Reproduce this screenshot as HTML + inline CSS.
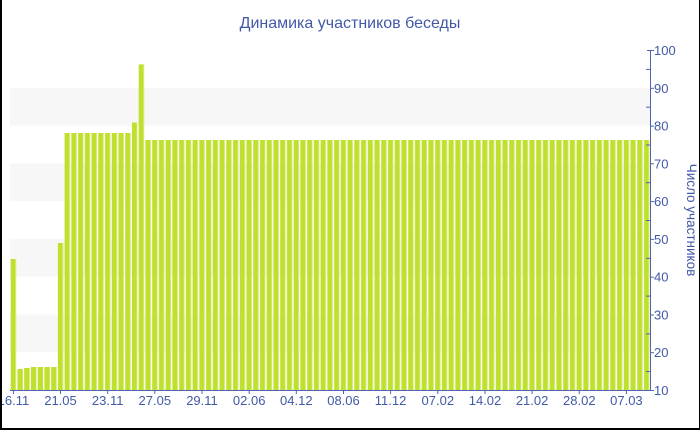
<!DOCTYPE html>
<html><head><meta charset="utf-8"><style>
html,body{margin:0;padding:0;background:#fff;}
svg{display:block;}
text{font-family:"Liberation Sans","DejaVu Sans",sans-serif;fill:#4159a7;}
</style></head><body>
<svg width="700" height="430" viewBox="0 0 700 430" xmlns="http://www.w3.org/2000/svg">
<defs>
<pattern id="bars" x="10" y="0" width="6.73684" height="430" patternUnits="userSpaceOnUse">
<rect x="0.7" y="0" width="5.4" height="430" fill="#bfe02f"/>
<rect x="5.3" y="0" width="0.9" height="430" fill="#d9ee86"/>
</pattern>
</defs>
<rect x="0" y="0" width="700" height="430" fill="#fff"/>
<g fill="#f7f7f7">
<rect x="10" y="87.8" width="640" height="37.8"/>
<rect x="10" y="163.3" width="640" height="37.8"/>
<rect x="10" y="238.9" width="640" height="37.8"/>
<rect x="10" y="314.4" width="640" height="37.8"/>
</g>
<g fill="#bfe02f">
<rect x="10.70" y="259" width="5.4" height="131"/>
<rect x="17.44" y="369" width="5.4" height="21"/>
<rect x="24.17" y="368" width="5.4" height="22"/>
<rect x="30.91" y="367" width="5.4" height="23"/>
<rect x="37.65" y="367" width="5.4" height="23"/>
<rect x="44.38" y="367" width="5.4" height="23"/>
<rect x="51.12" y="367" width="5.4" height="23"/>
<rect x="57.86" y="243" width="5.4" height="147"/>
<rect x="131.96" y="122.5" width="5.4" height="267.5"/>
<rect x="138.70" y="64" width="5.4" height="326"/>
</g>
<g fill="#d9ee86">
<rect x="15.3" y="259" width="0.9" height="131"/>
<rect x="62.46" y="243" width="0.9" height="147"/>
<rect x="136.56" y="122.5" width="0.9" height="267.5"/>
<rect x="143.3" y="64" width="0.9" height="326"/>
<rect x="138.7" y="64" width="5.4" height="1" />
</g>
<rect x="63.95" y="133" width="67.37" height="257" fill="url(#bars)"/>
<rect x="144.74" y="140" width="505.26" height="250" fill="url(#bars)"/>
<g stroke="#4f64ae" stroke-width="1" fill="none">
<line x1="650.5" y1="50" x2="650.5" y2="390.5"/>
<line x1="10" y1="390.5" x2="650.5" y2="390.5"/>
<line x1="647" y1="50.5" x2="654" y2="50.5"/>
<line x1="650" y1="88.3" x2="654" y2="88.3"/>
<line x1="650" y1="126.1" x2="654" y2="126.1"/>
<line x1="650" y1="163.8" x2="654" y2="163.8"/>
<line x1="650" y1="201.6" x2="654" y2="201.6"/>
<line x1="650" y1="239.4" x2="654" y2="239.4"/>
<line x1="650" y1="277.2" x2="654" y2="277.2"/>
<line x1="650" y1="315" x2="654" y2="315"/>
<line x1="650" y1="352.7" x2="654" y2="352.7"/>
<line x1="650" y1="390.5" x2="654" y2="390.5"/>
<line x1="646" y1="69.4" x2="650" y2="69.4"/>
<line x1="646" y1="107.2" x2="650" y2="107.2"/>
<line x1="646" y1="145" x2="650" y2="145"/>
<line x1="646" y1="182.7" x2="650" y2="182.7"/>
<line x1="646" y1="220.5" x2="650" y2="220.5"/>
<line x1="646" y1="258.3" x2="650" y2="258.3"/>
<line x1="646" y1="296.1" x2="650" y2="296.1"/>
<line x1="646" y1="333.9" x2="650" y2="333.9"/>
<line x1="646" y1="371.6" x2="650" y2="371.6"/>
<line x1="13.4" y1="390" x2="13.4" y2="394"/>
<line x1="60.5" y1="390" x2="60.5" y2="394"/>
<line x1="107.7" y1="390" x2="107.7" y2="394"/>
<line x1="154.8" y1="390" x2="154.8" y2="394"/>
<line x1="202" y1="390" x2="202" y2="394"/>
<line x1="249.2" y1="390" x2="249.2" y2="394"/>
<line x1="296.3" y1="390" x2="296.3" y2="394"/>
<line x1="343.5" y1="390" x2="343.5" y2="394"/>
<line x1="390.6" y1="390" x2="390.6" y2="394"/>
<line x1="437.8" y1="390" x2="437.8" y2="394"/>
<line x1="485" y1="390" x2="485" y2="394"/>
<line x1="532.1" y1="390" x2="532.1" y2="394"/>
<line x1="579.3" y1="390" x2="579.3" y2="394"/>
<line x1="626.4" y1="390" x2="626.4" y2="394"/>
</g>
<g font-size="13">
<text x="654" y="55">100</text>
<text x="654" y="92.8">90</text>
<text x="654" y="130.6">80</text>
<text x="654" y="168.3">70</text>
<text x="654" y="206.1">60</text>
<text x="654" y="243.9">50</text>
<text x="654" y="281.7">40</text>
<text x="654" y="319.5">30</text>
<text x="654" y="357.2">20</text>
<text x="654" y="395">10</text>
</g>
<g font-size="13" text-anchor="middle">
<text x="13.4" y="405">16.11</text>
<text x="60.5" y="405">21.05</text>
<text x="107.7" y="405">23.11</text>
<text x="154.8" y="405">27.05</text>
<text x="202" y="405">29.11</text>
<text x="249.2" y="405">02.06</text>
<text x="296.3" y="405">04.12</text>
<text x="343.5" y="405">08.06</text>
<text x="390.6" y="405">11.12</text>
<text x="437.8" y="405">07.02</text>
<text x="485" y="405">14.02</text>
<text x="532.1" y="405">21.02</text>
<text x="579.3" y="405">28.02</text>
<text x="626.4" y="405">07.03</text>
</g>
<text x="350" y="28" font-size="16" text-anchor="middle">Динамика участников беседы</text>
<text transform="translate(687,220) rotate(90)" font-size="13.5" text-anchor="middle">Число участников</text>
<rect x="0" y="0" width="2" height="430" fill="#000"/>
<rect x="0" y="428" width="700" height="2" fill="#000"/>
<rect x="699" y="0" width="1" height="430" fill="#000"/>
</svg>
</body></html>
